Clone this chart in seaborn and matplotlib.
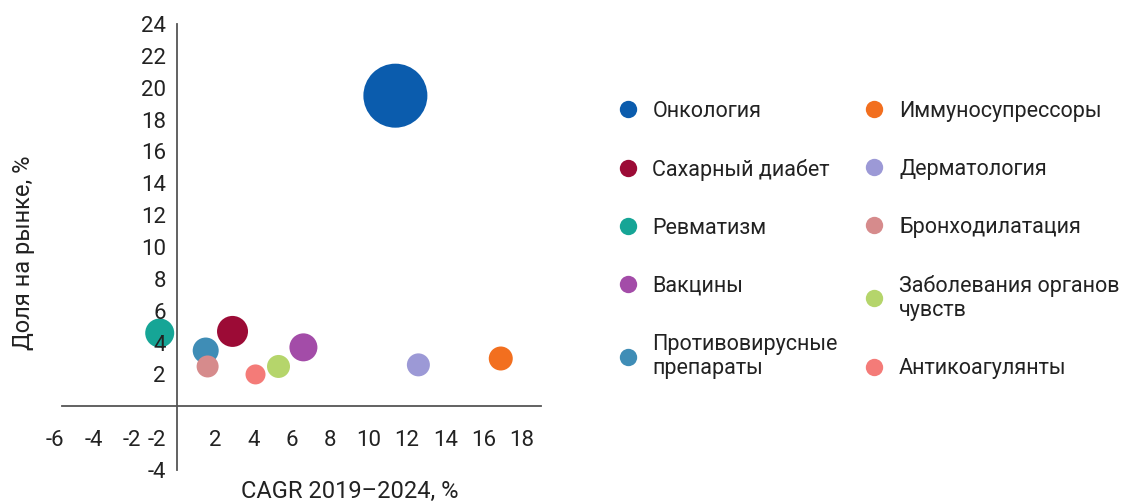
import numpy as np
import matplotlib
matplotlib.use('Agg')
import matplotlib.pyplot as plt
import matplotlib.transforms as mtransforms
from matplotlib.lines import Line2D
import pandas as pd
import seaborn as sns

# Данные (оценены по рисунку)
names = ['Онкология', 'Сахарный диабет', 'Ревматизм', 'Вакцины', 'Противовирусные\nпрепараты',
         'Иммуносупрессоры', 'Дерматология', 'Бронходилатация', 'Заболевания органов\nчувств',
         'Антикоагулянты']
cagr = [11.4, 2.9, -0.9, 6.6, 1.5, 16.9, 12.6, 1.6, 5.3, 4.1]
share = [19.5, 4.7, 4.6, 3.7, 3.5, 3.0, 2.6, 2.5, 2.5, 2.0]
bubble = [64, 31, 29, 28, 26, 24, 23, 22, 23, 20]  # относительный размер пузыря
colors = ['#0b5cad', '#9c0b36', '#16a596', '#a34ca8', '#3f8db6',
          '#f26f1f', '#9c99d6', '#d68b8c', '#b5d56b', '#f47b78']

x_ticks = [-6, -4, -2, 2, 4, 6, 8, 10, 12, 14, 16, 18]
y_ticks = [-4, -2, 2, 4, 6, 8, 10, 12, 14, 16, 18, 20, 22, 24]

df = pd.DataFrame({'name': names, 'cagr': cagr, 'share': share, 'bubble': bubble})

sns.set_style('white')
plt.rcParams['font.family'] = ['Roboto', 'DejaVu Sans']

fig = plt.figure(figsize=(11.42, 5.01), dpi=100)
ax = fig.add_axes([62 / 1142, 1 - 470 / 501, (541 - 62) / 1142, (470 - 24) / 501])

palette = dict(zip(names, colors))
sizes = {n: (b * 0.72) ** 2 for n, b in zip(names, bubble)}
sns.scatterplot(data=df, x='cagr', y='share', hue='name', palette=palette,
                size='name', sizes=sizes, linewidth=0, alpha=1, legend=False, ax=ax)

ax.set_xlim(-6, 19)
ax.set_ylim(-4, 24)
ax.set_xticks(x_ticks)
ax.set_yticks(y_ticks)
ax.set_xticklabels([str(t) for t in x_ticks])
ax.set_yticklabels([str(t) for t in y_ticks])
ax.set_xlabel('')
ax.set_ylabel('')
ax.set_axisbelow(False)  # подписи делений поверх пузырей

# оси через ноль
ax.spines['left'].set_position(('data', 0))
ax.spines['bottom'].set_position(('data', 0))
ax.spines['top'].set_visible(False)
ax.spines['right'].set_visible(False)
for s in ['left', 'bottom']:
    ax.spines[s].set_color('#555555')
    ax.spines[s].set_linewidth(1.3)
    ax.spines[s].set_zorder(0.5)

ax.tick_params(axis='x', direction='in', length=5, width=1.2, color='#555555',
               pad=17, labelsize=16, labelcolor='#222222')
ax.tick_params(axis='y', direction='out', length=4.5, width=1.2, color='#555555',
               pad=3.5, labelsize=16, labelcolor='#222222')

# отрицательные подписи по X чуть левее
shift = mtransforms.ScaledTranslation(-7 / 100, 0, fig.dpi_scale_trans)
for lbl in ax.get_xticklabels():
    if lbl.get_text().startswith('-'):
        lbl.set_transform(lbl.get_transform() + shift)
ax.set_facecolor('none')

fig.text(24 / 1142, 1 - 253 / 501, 'Доля на рынке, %', rotation=90, ha='center', va='center',
         fontsize=17, color='#222222')
fig.text(350 / 1142, 1 - 491 / 501, 'CAGR 2019–2024, %', ha='center', va='center',
         fontsize=17, color='#222222')

# легенда в два столбца
handles = [Line2D([0], [0], marker='o', linestyle='', markersize=12.5,
                  markerfacecolor=c, markeredgewidth=0) for c in colors]
fig.legend(handles, names, ncol=2, loc='upper left',
           bbox_to_anchor=(606 / 1142, 1 - 90 / 501), frameon=False,
           fontsize=15.5, handlelength=1.0, handletextpad=0.65,
           columnspacing=1.2, labelspacing=1.72, borderpad=0,
           labelcolor='#222222')

plt.savefig('out.png', dpi=100)
